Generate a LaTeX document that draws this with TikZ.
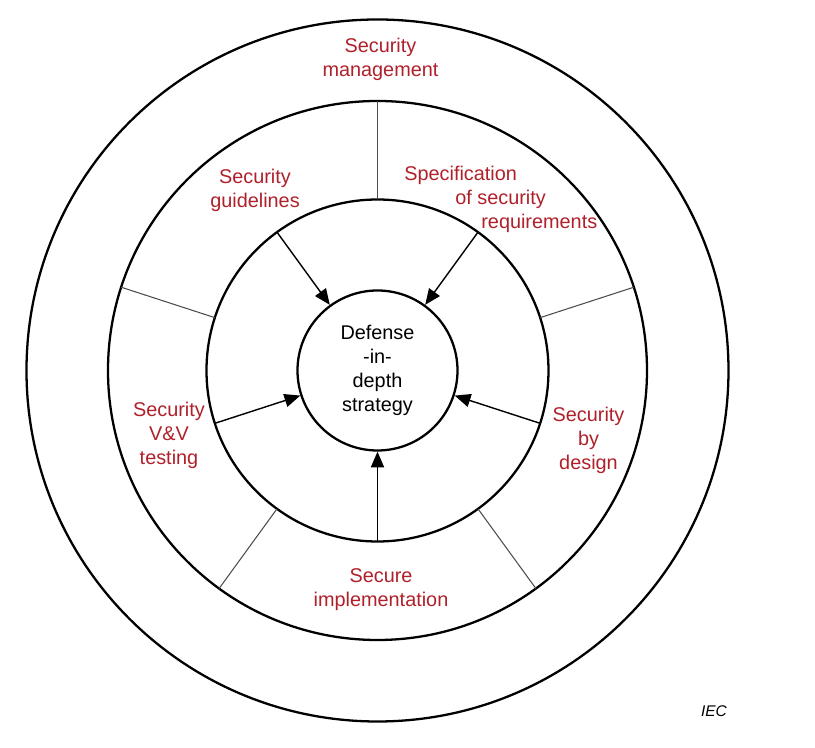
\documentclass[tikz,border=0pt]{standalone}
\usepackage{fontspec}
\setmainfont{Liberation Sans}
\usepackage{tikz}
\usetikzlibrary{
  positioning,
  arrows.meta
}
\definecolor{labelred}{RGB}{176,32,42}
\tikzstyle{ring}=[circle, draw, line width=1.3pt, inner sep=0pt, outer sep=0pt]
\tikzstyle{divider}=[draw=black!70, line width=0.6pt]
\tikzstyle{feed}=[-{Triangle[length=9pt, width=7.5pt]}, line width=0.8pt]
\tikzstyle{sectortext}=[text=labelred, align=center, inner sep=0pt, font=\fontsize{11.3}{13.6}\selectfont]

\begin{document}
\begin{tikzpicture}
    \useasboundingbox (-7.55,-7.55) rectangle (8.75,7.41);

    % 同心円
    \node[ring, minimum size=14.04cm] (outer) at (0,0) {};
    \node[ring, minimum size=10.78cm] (middle) at (0,0) {};
    \node[ring, minimum size=6.84cm] (inner) at (0,0) {};
    \node[ring, minimum size=3.20cm, outer sep=0.65pt, align=center,
      font=\fontsize{11.3}{13.6}\selectfont] (core) at (0,0)
      {Defense\\-in-\\depth\\strategy};

    % 区切り線
    \foreach \a in {18,90,162,234,306}
      \draw[divider] (inner.\a) -- (middle.\a);

    % 矢印
    \foreach \a in {54,126,198,270,342}
      \draw[feed] (inner.\a) -- (core.\a);

    % ラベル
    \node[sectortext] (mgmt) at (0.06,6.23) {Security\\management};
    \node[sectortext] (guide) at (-2.45,3.61) {Security\\guidelines};
    \node[sectortext, align=left, anchor=west] (spec) at (0.53,3.43)
      {Specification\\\hspace*{1.02cm}of security\\\hspace*{1.54cm}requirements};
    \node[sectortext] (vv) at (-4.17,-1.29) {Security\\V\&V\\testing};
    \node[sectortext] (design) at (4.22,-1.39) {Security\\by\\design};
    \node[sectortext] (impl) at (0.07,-4.39) {Secure\\implementation};

    % 出典
    \node[font=\fontsize{8.8}{10}\selectfont\itshape] (iec) at (6.73,-6.81) {IEC};
\end{tikzpicture}
\end{document}
